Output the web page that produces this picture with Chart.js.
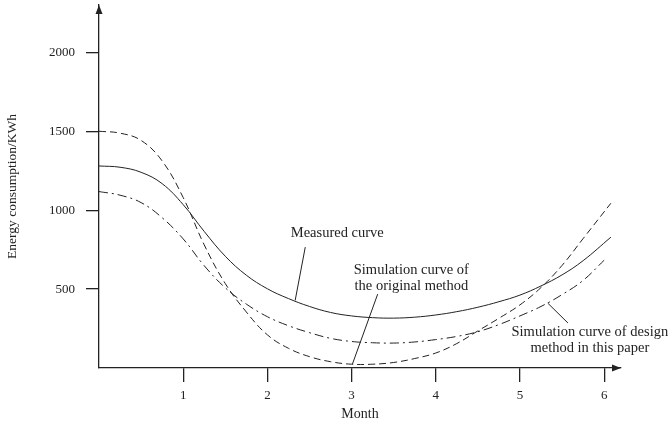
<!DOCTYPE html>
<html>
<head>
<meta charset="utf-8">
<script src="https://cdn.jsdelivr.net/npm/chart.js@4/dist/chart.umd.min.js"></script>
<style>
  html, body { margin: 0; padding: 0; background: #fff; }
  #wrap { width: 670px; height: 424px; }
</style>
</head>
<body>
<div id="wrap"><canvas id="c"></canvas></div>
<script>
// months on the x axis (two curves run a little past month 6)
const monthsLong = [0, 0.25, 0.5, 0.75, 1, 1.25, 1.5, 1.75, 2, 2.25, 2.5, 2.75, 3, 3.25, 3.5, 3.75, 4, 4.25, 4.5, 4.75, 5, 5.25, 5.5, 5.75, 6.08];
const monthsShort = [0, 0.25, 0.5, 0.75, 1, 1.25, 1.5, 1.75, 2, 2.25, 2.5, 2.75, 3, 3.25, 3.5, 3.75, 4, 4.25, 4.5, 4.75, 5, 5.25, 5.5, 5.75, 6];

const measured = [1280, 1272, 1240, 1168, 1035, 865, 708, 588, 502, 440, 390, 352, 330, 319, 316, 322, 336, 357, 385, 420, 462, 520, 590, 680, 829];
const original = [1500, 1488, 1442, 1312, 1080, 780, 535, 355, 210, 125, 72, 40, 24, 24, 35, 60, 95, 155, 235, 315, 400, 510, 650, 820, 1044];
const design = [1118, 1095, 1048, 952, 818, 648, 508, 405, 325, 268, 224, 188, 168, 160, 158, 165, 180, 200, 230, 275, 330, 390, 465, 555, 683];

const xTicks = [1, 2, 3, 4, 5, 6];
const yTicks = [500, 1000, 1500, 2000];

// curve labels: text lines, label centre and leader line (month, kWh)
const notes = [
  { lines: ['Measured curve'], at: [2.83, 854], from: [2.45, 766], to: [2.33, 428] },
  { lines: ['Simulation curve of', 'the original method'], at: [3.71, 570], from: [3.31, 468], to: [3.01, 25] },
  { lines: ['Simulation curve of design', 'method in this paper'], at: [5.83, 178], from: [5.57, 285], to: [5.33, 411] }
];

const ink = '#222';
const serif = "'Liberation Serif', 'Times New Roman', serif";

const pts = (xs, ys) => ys.map((v, i) => ({ x: xs[i], y: v }));

const noPad = s => { s.paddingTop = 0; s.paddingBottom = 0; s.paddingLeft = 0; s.paddingRight = 0; };

const extras = {
  id: 'extras',
  afterDraw(chart) {
    const ctx = chart.ctx;
    const xs = chart.scales.x, ys = chart.scales.y;
    const a = chart.chartArea;
    ctx.save();
    ctx.fillStyle = ink;
    // arrow heads at the axis ends
    ctx.beginPath();
    ctx.moveTo(a.right, a.bottom);
    ctx.lineTo(a.right - 9, a.bottom - 3.5);
    ctx.lineTo(a.right - 9, a.bottom + 3.5);
    ctx.closePath();
    ctx.fill();
    ctx.beginPath();
    ctx.moveTo(a.left, a.top);
    ctx.lineTo(a.left - 3.5, a.top + 9);
    ctx.lineTo(a.left + 3.5, a.top + 9);
    ctx.closePath();
    ctx.fill();
    // labels and leaders
    ctx.strokeStyle = ink;
    ctx.lineWidth = 1;
    ctx.font = '14.5px ' + serif;
    ctx.textAlign = 'center';
    ctx.textBaseline = 'middle';
    notes.forEach(n => {
      ctx.beginPath();
      ctx.moveTo(xs.getPixelForValue(n.from[0]), ys.getPixelForValue(n.from[1]));
      ctx.lineTo(xs.getPixelForValue(n.to[0]), ys.getPixelForValue(n.to[1]));
      ctx.stroke();
      const cx = xs.getPixelForValue(n.at[0]);
      const cy = ys.getPixelForValue(n.at[1]);
      const lh = 16;
      n.lines.forEach((t, i) => {
        ctx.fillText(t, cx, cy + (i - (n.lines.length - 1) / 2) * lh);
      });
    });
    ctx.restore();
  }
};

new Chart(document.getElementById('c'), {
  type: 'line',
  data: {
    datasets: [
      { label: 'Measured curve', data: pts(monthsLong, measured), borderDash: [] },
      { label: 'Simulation curve of the original method', data: pts(monthsLong, original), borderDash: [7, 4] },
      { label: 'Simulation curve of design method in this paper', data: pts(monthsShort, design), borderDash: [9, 4, 2, 4] }
    ]
  },
  options: {
    responsive: true,
    maintainAspectRatio: false,
    animation: false,
    layout: { padding: { top: 5, right: 49, left: 0, bottom: 0 } },
    elements: {
      point: { radius: 0 },
      line: { borderColor: ink, borderWidth: 1, fill: false, tension: 0.4 }
    },
    plugins: { legend: { display: false }, tooltip: { enabled: false } },
    scales: {
      x: {
        type: 'linear',
        min: 0,
        max: 6.2,
        afterBuildTicks: s => { s.ticks = xTicks.map(v => ({ value: v })); },
        afterFit: s => { s.height = 56; noPad(s); },
        border: { color: ink, width: 1.3 },
        grid: { drawOnChartArea: false, drawTicks: true, tickLength: 14, color: ink, lineWidth: 1.3 },
        ticks: { color: ink, padding: 6, maxRotation: 0, font: { family: serif, size: 13 }, callback: v => String(v) },
        title: { display: true, text: 'Month', color: ink, padding: { top: 0, bottom: 1 }, font: { family: serif, size: 14 } }
      },
      y: {
        type: 'linear',
        min: 0,
        max: 2300,
        afterBuildTicks: s => { s.ticks = yTicks.map(v => ({ value: v })); },
        afterFit: s => { s.width = 99; noPad(s); },
        border: { color: ink, width: 1.3 },
        grid: { drawOnChartArea: false, drawTicks: true, tickLength: 13, color: ink, lineWidth: 1.3 },
        ticks: { color: ink, padding: 11, font: { family: serif, size: 13 }, callback: v => String(v) },
        title: { display: true, text: 'Energy consumption/KWh', color: ink, padding: { top: 4, bottom: 0 }, font: { family: serif, size: 13.5 } }
      }
    }
  },
  plugins: [extras]
});
</script>
</body>
</html>
